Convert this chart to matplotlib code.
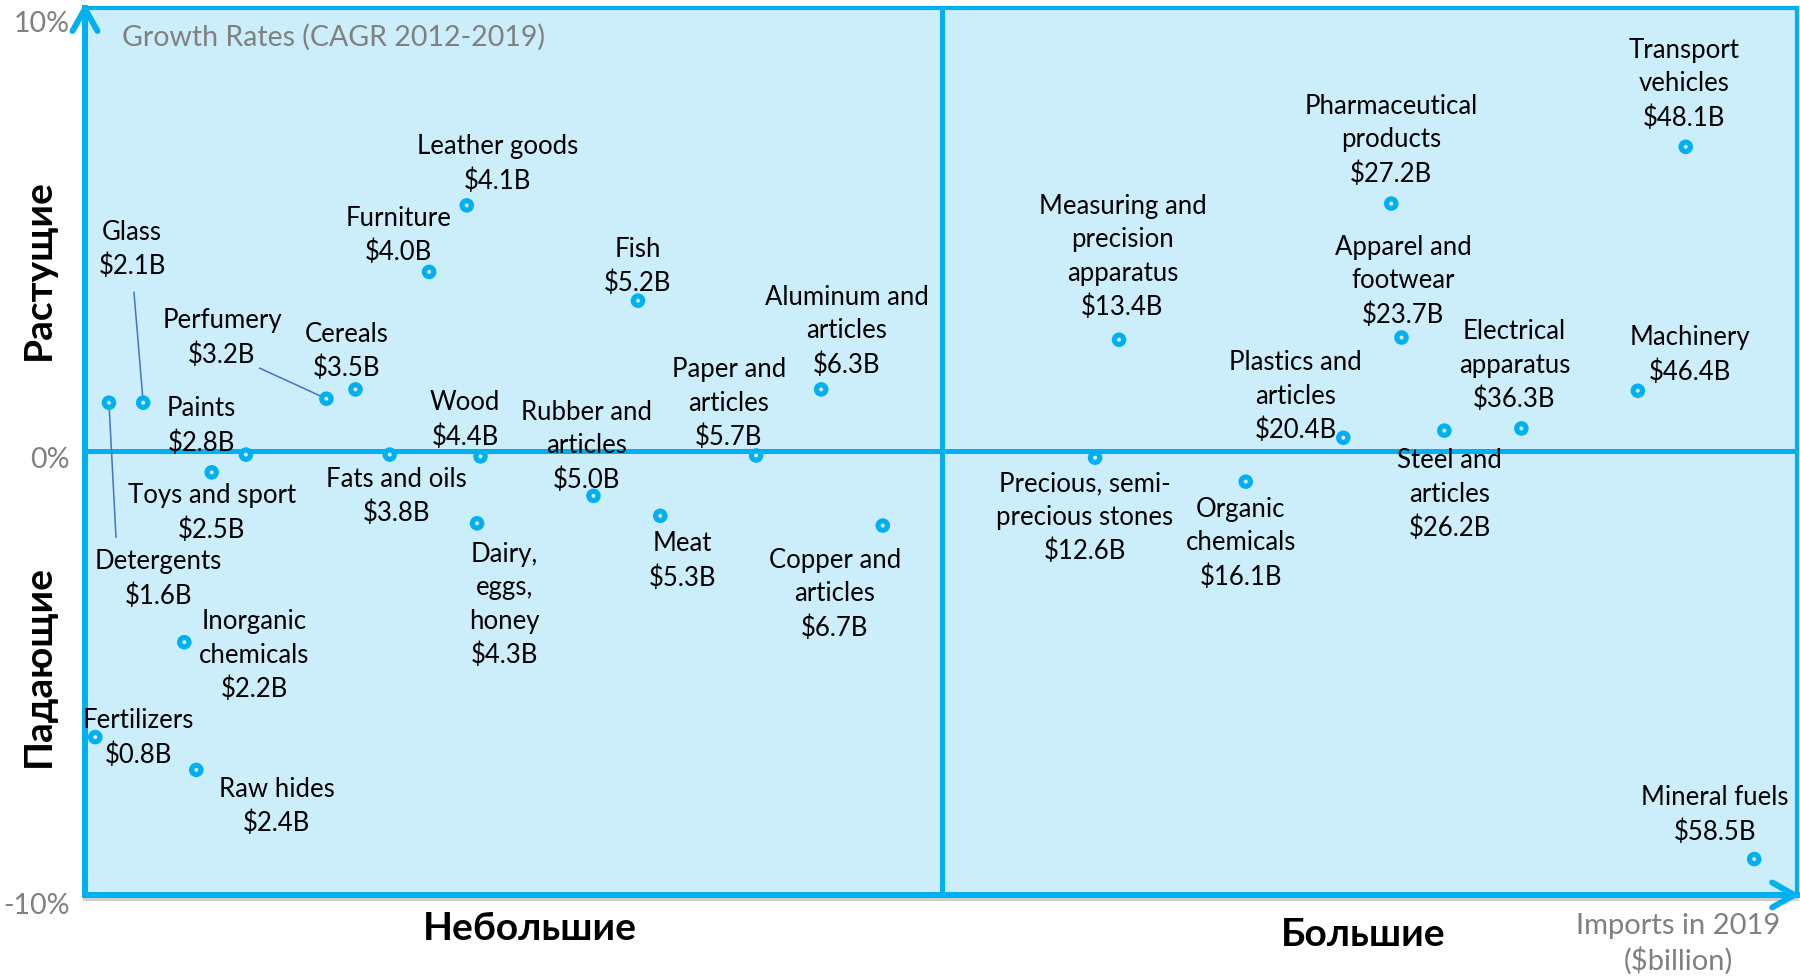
import matplotlib
matplotlib.use("Agg")
import matplotlib.pyplot as plt
from matplotlib.transforms import ScaledTranslation

plt.rcParams['font.family'] = ['Lato', 'Open Sans', 'DejaVu Sans']

# ---- values ----
names = ["Fertilizers", "Detergents", "Glass", "Inorganic\nchemicals", "Raw hides",
         "Toys and sport", "Paints", "Perfumery", "Cereals", "Fats and oils",
         "Furniture", "Leather goods", "Dairy,\neggs,\nhoney", "Wood",
         "Rubber and\narticles", "Fish", "Meat", "Paper and\narticles",
         "Aluminum and\narticles", "Copper and\narticles",
         "Precious, semi-\nprecious stones", "Measuring and\nprecision\napparatus",
         "Organic\nchemicals", "Plastics and\narticles", "Apparel and\nfootwear",
         "Steel and\narticles", "Pharmaceutical\nproducts", "Electrical\napparatus",
         "Machinery", "Transport\nvehicles", "Mineral fuels"]
imports_bn = [0.8, 1.6, 2.1, 2.2, 2.4, 2.5, 2.8, 3.2, 3.5, 3.8, 4.0, 4.1, 4.3, 4.4,
              5.0, 5.2, 5.3, 5.7, 6.3, 6.7, 12.6, 13.4, 16.1, 20.4, 23.7, 26.2,
              27.2, 36.3, 46.4, 48.1, 58.5]
cagr_pct = [-6.44, 1.1, 1.1, -4.3, -7.18, -0.47, -0.07, 1.19, 1.4, -0.07, 4.05, 5.55,
            -1.62, -0.11, -1.0, 3.4, -1.45, -0.09, 1.4, -1.67, -0.14, 2.52, -0.68,
            0.31, 2.57, 0.47, 5.59, 0.52, 1.37, 6.87, -9.19]
# horizontal place on the chart (0-100, small importers on the left half)
x_pos = [0.6, 1.4, 3.4, 5.8, 6.5, 7.4, 9.4, 14.1, 15.8, 17.8, 20.1, 22.3, 22.9, 23.1,
         29.7, 32.3, 33.6, 39.2, 43.0, 46.6, 59.0, 60.4, 67.8, 73.5, 76.9, 79.4,
         76.3, 83.9, 90.7, 93.5, 97.5]
y_ticks = [-10, 0, 10]
y_tick_labels = ["-10%", "0%", "10%"]

# ---- layout: label centres (same order) and leader line starts ----
label_xy = [(3.1, -6.39), (4.3, -2.81), (2.75, 4.62), (9.9, -4.54), (11.2, -7.93),
            (7.4, -1.32), (6.8, 0.64), (8.0, 2.63), (15.3, 2.33), (18.2, -0.94),
            (18.3, 4.94), (24.1, 6.55), (24.5, -3.39), (22.2, 0.78), (29.3, 0.19),
            (32.3, 4.24), (34.9, -2.4), (37.6, 1.14), (44.5, 2.78), (43.8, -3.15),
            (58.4, -1.43), (60.6, 4.45), (67.5, -2.0), (70.7, 1.30), (77.0, 3.91),
            (79.7, -0.91), (76.3, 7.09), (83.5, 2.0), (93.75, 2.24), (93.4, 8.35),
            (95.2, -8.13)]
leaders = {2: (2.86, 3.59), 1: (1.81, -1.93), 7: (10.2, 1.88)}
tick_drop = [0.08, 0.06, 0.14]  # inches, per y tick label

BLUE = '#00B0F0'
FILL = '#CCEEFA'
GREY = '#808080'

fig = plt.figure(figsize=(18, 9.8), dpi=100)
ax = fig.add_axes([85 / 1800, 85 / 980, 1712 / 1800, 887 / 980])
ax.set_facecolor(FILL)
ax.set_xlim(0, 100)
ax.set_ylim(-10, 10)

for side in ['top', 'right']:
    ax.spines[side].set_color(BLUE)
    ax.spines[side].set_linewidth(3)
for side in ['left', 'bottom']:
    ax.spines[side].set_color(BLUE)
    ax.spines[side].set_linewidth(4.3)

# shadow under the horizontal axis
shadow = ax.transAxes + ScaledTranslation(0, -0.04, fig.dpi_scale_trans)
ax.plot([0, 1], [0, 0], transform=shadow, color='#b0b0b0', lw=3, alpha=0.6,
        clip_on=False, zorder=2)

# quadrant lines
ax.axvline(50.06, color=BLUE, lw=3.6, zorder=2)
ax.axhline(0, color=BLUE, lw=3.6, zorder=2)

# axis arrows
arrow = dict(arrowstyle='->,head_length=0.8,head_width=0.45', color=BLUE, lw=4.3,
             mutation_scale=20, shrinkA=0, shrinkB=0)
ax.annotate('', xy=(0, 1.006), xytext=(0, 0.5), xycoords='axes fraction',
            arrowprops=arrow, annotation_clip=False)
ax.annotate('', xy=(1.002, 0), xytext=(0.5, 0), xycoords='axes fraction',
            arrowprops=arrow, annotation_clip=False)

ax.set_xticks([])
ax.set_yticks(y_ticks)
ax.set_yticklabels(y_tick_labels)
ax.tick_params(axis='y', length=0, pad=11, labelsize=20.5, labelcolor=GREY)
for lab, drop in zip(ax.get_yticklabels(), tick_drop):
    lab.set_transform(lab.get_transform() + ScaledTranslation(0, -drop, fig.dpi_scale_trans))

# leader lines
for i, (lx, ly) in leaders.items():
    ax.plot([lx, x_pos[i]], [ly, cagr_pct[i]], color='#4472C4', lw=1.1, zorder=3)

# points
ax.scatter(x_pos, cagr_pct, s=110, color=BLUE, edgecolor='none', zorder=4)
ax.scatter(x_pos, cagr_pct, s=8, color='#DDF3FC', edgecolor='none', zorder=5)

# labels
lab_shift = ax.transData + ScaledTranslation(0, -0.03, fig.dpi_scale_trans)
for name, val, (lx, ly) in zip(names, imports_bn, label_xy):
    ax.text(lx, ly, f"{name}\n${val:.1f}B", ha='center', va='center',
            multialignment='center', fontsize=18.5, linespacing=1.43, color='black',
            zorder=6, transform=lab_shift)

ax.text(2.16, 9.35, "Growth Rates (CAGR 2012-2019)", ha='left', va='center',
        fontsize=20.5, color=GREY)

# quadrant captions
fig.text(38 / 1800, 1 - 270 / 980, "Растущие", rotation=90, ha='center', va='center',
         fontsize=28, fontweight='bold')
fig.text(38 / 1800, 1 - 666 / 980, "Падающие", rotation=90, ha='center', va='center',
         fontsize=28, fontweight='bold')
fig.text(530 / 1800, 1 - 928 / 980, "Небольшие", ha='center', va='center',
         fontsize=28, fontweight='bold')
fig.text(1363 / 1800, 1 - 934 / 980, "Большие", ha='center', va='center',
         fontsize=28, fontweight='bold')
fig.text(1678 / 1800, 1 - 944 / 980, "Imports in 2019\n($billion)", ha='center',
         va='center', fontsize=21, color=GREY, linespacing=1.35)

fig.savefig('out.png', dpi=100)
